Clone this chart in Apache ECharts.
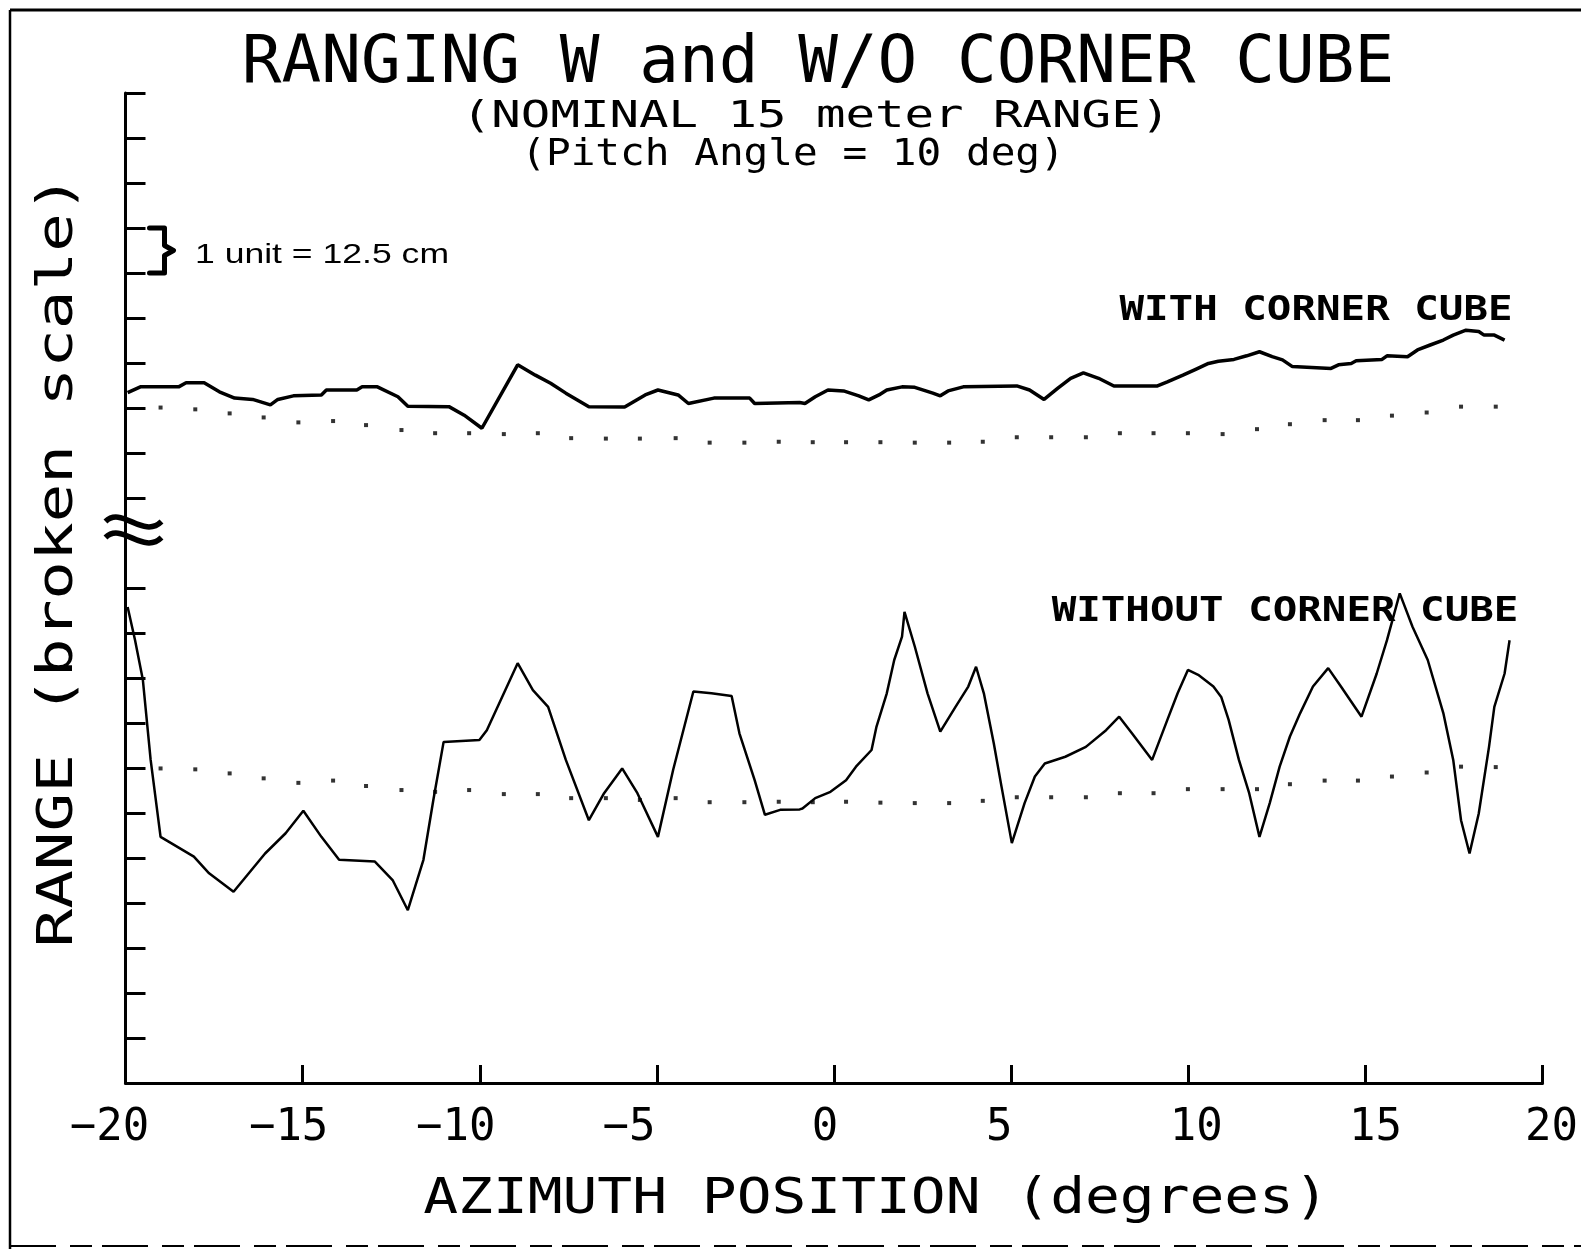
<!DOCTYPE html>
<html>
<head>
<meta charset="utf-8">
<title>Ranging W and W/O Corner Cube</title>
<script src="https://cdn.jsdelivr.net/npm/echarts@6/dist/echarts.min.js"></script>
<style>
  html, body { margin: 0; padding: 0; background: #fff; }
  #chart { width: 1581px; height: 1249px; }
</style>
</head>
<body>
<div id="chart"></div>
<script>
// values: azimuth in degrees, range in plot units (1 unit = 12.5 cm, broken scale)
const withAz = [-19.94, -19.58, -18.50, -18.29, -17.78, -17.35, -16.92, -16.41, -15.91, -15.70,
  -15.26, -14.47, -14.33, -13.47, -13.32, -12.89, -12.31, -12.03, -10.87, -10.44,
  -9.94, -8.93, -8.43, -8.00, -7.57, -6.92, -5.91, -5.33, -4.97, -4.40,
  -4.11, -3.39, -2.38, -2.24, -0.97, -0.82, -0.53, -0.17, 0.27, 0.70,
  0.98, 1.27, 1.49, 1.92, 2.28, 2.79, 3.00, 3.22, 3.65, 5.16,
  5.52, 5.93, 6.32, 6.68, 7.04, 7.47, 7.90, 9.13, 9.41, 9.85,
  10.21, 10.57, 10.85, 11.29, 11.65, 12.01, 12.37, 12.66, 12.94, 14.03,
  14.24, 14.60, 14.74, 15.47, 15.61, 16.19, 16.47, 16.83, 17.20, 17.48,
  17.84, 18.20, 18.35, 18.64, 18.93]
const withRange = [15.34, 15.47, 15.47, 15.56, 15.56, 15.36, 15.22, 15.19, 15.07, 15.19,
  15.27, 15.29, 15.40, 15.40, 15.47, 15.47, 15.25, 15.04, 15.03, 14.84,
  14.55, 15.96, 15.73, 15.55, 15.33, 15.03, 15.02, 15.29, 15.40, 15.29,
  15.10, 15.22, 15.22, 15.10, 15.12, 15.10, 15.25, 15.40, 15.38, 15.27,
  15.18, 15.29, 15.40, 15.47, 15.46, 15.33, 15.27, 15.38, 15.47, 15.49,
  15.40, 15.19, 15.44, 15.66, 15.78, 15.66, 15.49, 15.49, 15.58, 15.73,
  15.86, 15.99, 16.04, 16.08, 16.16, 16.25, 16.14, 16.07, 15.92, 15.88,
  15.96, 15.99, 16.05, 16.08, 16.16, 16.14, 16.29, 16.40, 16.51, 16.62,
  16.73, 16.70, 16.62, 16.62, 16.51]

const withoutAz = [-19.94, -19.73, -19.51, -19.29, -19.01, -18.07, -17.64, -16.95, -16.06, -15.48,
  -14.98, -14.47, -13.97, -12.96, -12.46, -12.03, -11.59, -11.31, -11.02, -10.01,
  -9.80, -8.93, -8.50, -8.07, -7.57, -6.92, -6.49, -5.98, -5.55, -4.97,
  -4.54, -3.97, -3.46, -2.89, -2.67, -2.24, -1.95, -1.52, -0.97, -0.89,
  -0.53, -0.10, 0.34, 0.62, 1.06, 1.20, 1.49, 1.70, 1.92, 1.99,
  2.28, 2.64, 3.00, 3.43, 3.79, 4.01, 4.23, 4.51, 4.73, 5.02,
  5.38, 5.67, 5.95, 6.53, 7.11, 7.68, 8.05, 8.41, 8.98, 9.41,
  9.70, 9.99, 10.28, 10.71, 10.93, 11.14, 11.43, 11.72, 12.01, 12.30,
  12.58, 12.87, 13.16, 13.52, 13.95, 14.31, 14.89, 15.32, 15.61, 15.97,
  16.33, 16.76, 17.20, 17.48, 17.70, 17.94, 18.20, 18.49, 18.64, 18.93, 19.07]
const withoutRange = [10.58, 9.84, 8.96, 7.18, 5.47, 5.03, 4.66, 4.25, 5.10, 5.55,
  6.05, 5.47, 4.96, 4.92, 4.51, 3.84, 4.96, 6.29, 7.58, 7.62,
  7.84, 9.33, 8.73, 8.36, 7.18, 5.84, 6.44, 6.99, 6.44, 5.47,
  6.96, 8.70, 8.66, 8.60, 7.77, 6.73, 5.96, 6.07, 6.08, 6.10,
  6.33, 6.47, 6.73, 7.03, 7.40, 7.92, 8.66, 9.40, 9.92, 10.47,
  9.70, 8.66, 7.81, 8.36, 8.81, 9.25, 8.66, 7.55, 6.58, 5.33,
  6.22, 6.81, 7.10, 7.25, 7.47, 7.84, 8.14, 7.77, 7.18, 8.07,
  8.66, 9.18, 9.07, 8.81, 8.58, 8.07, 7.18, 6.44, 5.47, 6.22,
  7.03, 7.70, 8.22, 8.81, 9.22, 8.81, 8.14, 9.10, 9.84, 10.88,
  10.14, 9.40, 8.22, 7.18, 5.84, 5.10, 5.99, 7.47, 8.36, 9.10, 9.84]

// dotted reference lines
const fitAz = [-19.01, -18.03, -17.06, -16.10, -15.12, -14.14, -13.21, -12.21, -11.26, -10.30,
  -9.32, -8.36, -7.42, -6.44, -5.48, -4.47, -3.51, -2.53, -1.56, -0.60,
  0.34, 1.31, 2.28, 3.25, 4.20, 5.16, 6.13, 7.11, 8.07, 9.02,
  9.99, 10.97, 11.94, 12.87, 13.85, 14.79, 15.75, 16.73, 17.70, 18.68]
const withFit = [15.01, 14.97, 14.88, 14.79, 14.68, 14.71, 14.62, 14.51, 14.44, 14.44,
  14.42, 14.44, 14.33, 14.32, 14.32, 14.33, 14.23, 14.23, 14.25, 14.24,
  14.24, 14.24, 14.23, 14.23, 14.25, 14.35, 14.35, 14.35, 14.44, 14.44,
  14.44, 14.42, 14.53, 14.64, 14.73, 14.73, 14.83, 14.90, 15.03, 15.03]
const withoutFit = [6.99, 6.97, 6.88, 6.77, 6.67, 6.72, 6.60, 6.51, 6.47, 6.51,
  6.42, 6.42, 6.33, 6.33, 6.29, 6.33, 6.24, 6.24, 6.25, 6.24,
  6.25, 6.23, 6.22, 6.22, 6.27, 6.35, 6.35, 6.35, 6.44, 6.44,
  6.53, 6.53, 6.53, 6.64, 6.72, 6.72, 6.81, 6.90, 7.03, 7.02]

const xTicks = [-20, -15, -10, -5, 0, 5, 10, 15, 20]
const yTicks = [0, 1, 2, 3, 4, 5, 6, 7, 8, 9, 10, 11, 13, 14, 15, 16, 17, 18, 19, 20, 21, 22] // 12 is the break

const mono = 'DejaVu Sans Mono'
// the plotter placed its tick labels a little off the ticks (px)
const labelShift = [-16, -14, -24, -28, -9, -12, 8, 10, 9]

const pairs = (xs, ys) => xs.map((x, i) => [x, ys[i]])

const rich = {}
labelShift.forEach((s, i) => {
  rich['s' + i] = {
    fontFamily: mono, fontSize: 44, color: '#000',
    padding: s < 0 ? [0, -2 * s, 0, 0] : [0, 0, 0, 2 * s]
  }
})

const chart = echarts.init(document.getElementById('chart'))

chart.setOption({
  animation: false,
  backgroundColor: '#fff',
  title: {
    text: 'RANGING W and W/O CORNER CUBE',
    left: 813,
    top: 27,
    textAlign: 'center',
    textStyle: { fontFamily: mono, fontSize: 66, fontWeight: 'normal', color: '#000' }
  },
  grid: { left: 125.5, right: 37, top: 93, bottom: 166 },
  xAxis: {
    type: 'value',
    min: -20,
    max: 20,
    interval: 5,
    axisLine: { lineStyle: { color: '#000', width: 3 } },
    axisTick: { inside: true, length: 18, lineStyle: { color: '#000', width: 3 } },
    splitLine: { show: false },
    axisLabel: {
      margin: 24,
      showMaxLabel: true,
      formatter: v => {
        const i = xTicks.indexOf(v)
        return '{s' + i + '|' + String(v).replace('-', '\u2212') + '}'
      },
      rich: rich
    }
  },
  yAxis: {
    type: 'value',
    min: 0,
    max: 22,
    interval: 1,
    axisLine: { onZero: false, lineStyle: { color: '#000', width: 3 } },
    axisTick: { inside: true, length: 20, customValues: yTicks, lineStyle: { color: '#000', width: 3 } },
    axisLabel: { show: false },
    splitLine: { show: false }
  },
  series: [
    {
      name: 'WITH CORNER CUBE',
      type: 'line',
      data: pairs(withAz, withRange),
      showSymbol: false,
      lineStyle: { color: '#000', width: 3.5 },
      z: 3
    },
    {
      name: 'WITHOUT CORNER CUBE',
      type: 'line',
      data: pairs(withoutAz, withoutRange),
      showSymbol: false,
      lineStyle: { color: '#000', width: 2.5 },
      z: 3
    },
    {
      name: 'with (reference)',
      type: 'scatter',
      data: pairs(fitAz, withFit),
      symbol: 'rect',
      symbolSize: 4,
      itemStyle: { color: '#000' }
    },
    {
      name: 'without (reference)',
      type: 'scatter',
      data: pairs(fitAz, withoutFit),
      symbol: 'rect',
      symbolSize: 4,
      itemStyle: { color: '#000' }
    }
  ]
})

// annotations: stretched plotter lettering, unit bracket, axis break, frame
function label (text, x, y, size, sx, opts) {
  opts = opts || {}
  return {
    type: 'text',
    x: x,
    y: y,
    scaleX: sx,
    rotation: opts.rot || 0,
    z: 10,
    style: {
      text: text,
      fontFamily: opts.family || mono,
      fontSize: size,
      fontWeight: opts.weight || 'normal',
      fill: '#000',
      align: opts.align || 'center',
      verticalAlign: 'middle'
    }
  }
}

function tilde (x, y) {
  return {
    type: 'bezierCurve',
    z: 10,
    shape: { x1: x, y1: y + 8, cpx1: x + 16, cpy1: y - 8, cpx2: x + 38, cpy2: y + 26, x2: x + 56, y2: y + 8 },
    style: { stroke: '#000', fill: null, lineWidth: 5.5 }
  }
}

const ax = chart.convertToPixel({ gridIndex: 0 }, [-20, 0])[0]
const yTop = chart.convertToPixel({ gridIndex: 0 }, [-20, 19])[1]
const yBot = chart.convertToPixel({ gridIndex: 0 }, [-20, 18])[1]
const yMid = (yTop + yBot) / 2
const yBreak = chart.convertToPixel({ gridIndex: 0 }, [-20, 12.3])[1]

chart.setOption({
  graphic: [
    { type: 'line', shape: { x1: 10, y1: 10, x2: 1581, y2: 10 }, style: { stroke: '#000', lineWidth: 3 } },
    { type: 'line', shape: { x1: 10, y1: 10, x2: 10, y2: 1249 }, style: { stroke: '#000', lineWidth: 2.5 } },
    { type: 'line', shape: { x1: 10, y1: 1246, x2: 1581, y2: 1246 }, style: { stroke: '#000', lineWidth: 2, lineDash: [46, 14, 22, 10] } },

    label('(NOMINAL 15 meter RANGE)', 816, 117, 38, 1.29),
    label('(Pitch Angle = 10 deg)', 793, 155, 38, 1.08),
    label('WITH CORNER CUBE', 1316, 311, 34, 1.2, { weight: 'bold' }),
    label('WITHOUT CORNER CUBE', 1285, 612, 34, 1.2, { weight: 'bold' }),
    label('AZIMUTH POSITION (degrees)', 876, 1200, 50, 1.157),
    label('RANGE (broken scale)', 59, 561, 49, 1.31, { rot: Math.PI / 2 }),
    label('1 unit = 12.5 cm', 195, 255, 28, 1.27, { family: 'Liberation Sans', align: 'left' }),

    {
      type: 'polyline',
      z: 10,
      shape: {
        points: [[ax + 24, yTop], [ax + 39, yTop], [ax + 39, yMid - 5], [ax + 48, yMid],
          [ax + 39, yMid + 5], [ax + 39, yBot], [ax + 24, yBot]]
      },
      style: { stroke: '#000', fill: null, lineWidth: 5, lineJoin: 'round', lineCap: 'round' }
    },
    tilde(ax - 20, yBreak - 16),
    tilde(ax - 20, yBreak)
  ]
})
</script>
</body>
</html>
